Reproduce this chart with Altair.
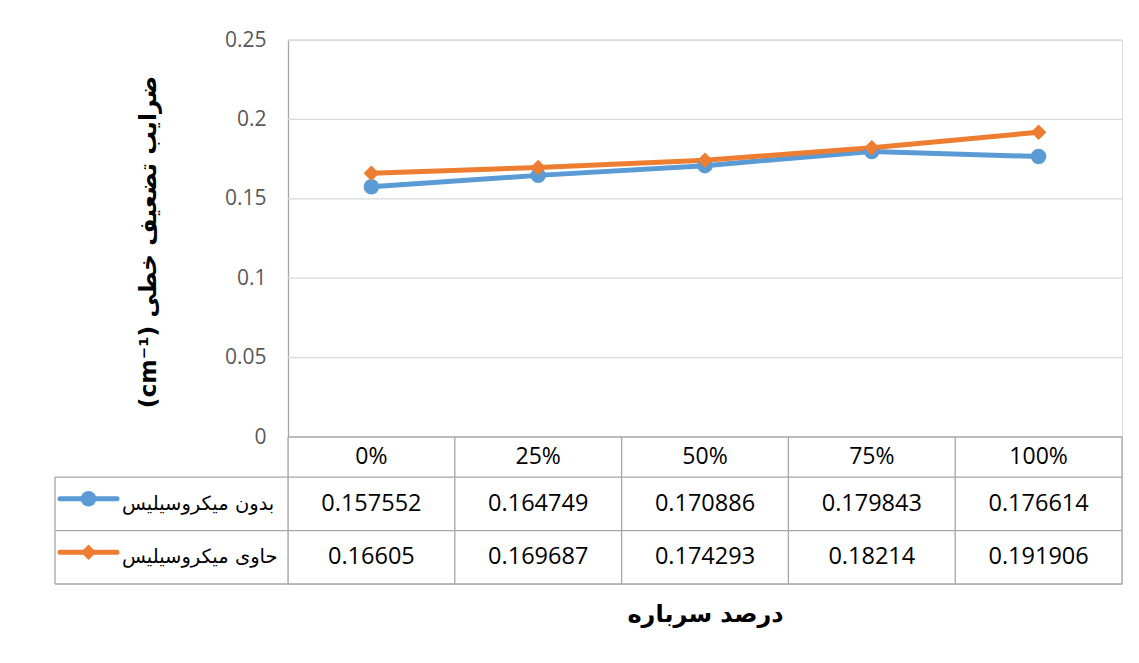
import altair as alt
import pandas as pd

# ---------------- data ----------------
categories = ["0%", "25%", "50%", "75%", "100%"]
series_names = ["بدون میکروسیلیس", "حاوی میکروسیلیس"]
series_1 = [0.157552, 0.164749, 0.170886, 0.179843, 0.176614]
series_2 = [0.16605, 0.169687, 0.174293, 0.18214, 0.191906]
y_ticks = [0, 0.05, 0.1, 0.15, 0.2, 0.25]
y_title = "(cm⁻¹) ضرایب تضعیف خطی"
x_title = "درصد سرباره"

# ---------------- styles / layout ----------------
colors = ["#5B9BD5", "#ED7D31"]
shapes = ["circle", "diamond"]
W = 834
PLOT_H = 397
TABLE_H = 147
N = len(categories)
UNIT = W / N
LABEL_COL = 233 / UNIT          # label column width, in column units
HEADER = 0.75                   # header row height, in row units
TABLE_ROWS = HEADER + len(series_names)
GLYPH_X0 = -228 / UNIT
GLYPH_X1 = -171 / UNIT
GLYPH_MID = (GLYPH_X0 + GLYPH_X1) / 2
LABEL_X = -166 / UNIT
BORDER = "#a6a6a6"
NUM_FONT = "Open Sans"
AR_FONT = "DejaVu Sans"
LW = 5
MS = 240

x_scale = alt.Scale(domain=[-LABEL_COL, N], range=[-LABEL_COL * UNIT, W], nice=False, zero=False)
y_scale = alt.Scale(domain=[0, 0.25], range=[PLOT_H, 0], nice=False, zero=False)
t_scale = alt.Scale(domain=[0, TABLE_ROWS], range=[PLOT_H, PLOT_H + TABLE_H], nice=False, zero=False)
color_scale = alt.Scale(domain=series_names, range=colors)
shape_scale = alt.Scale(domain=series_names, range=shapes)

x_axis = alt.Axis(title=x_title, labels=False, ticks=False, domain=False, grid=False,
                  titleX=W / 2, titlePadding=18, titleFont=AR_FONT, titleFontSize=24,
                  titleFontWeight="bold", titleColor="black")
y_axis = alt.Axis(values=y_ticks, labelExpr="format(datum.value, '~g')", title=y_title,
                  titleX=-140, titleY=PLOT_H / 2 + 3, titleAngle=270, titleAlign="center",
                  titleBaseline="middle", titleFont=AR_FONT, titleFontSize=23.5,
                  titleFontWeight="bold", titleColor="black",
                  labelFont=NUM_FONT, labelFontSize=21, labelColor="#595959", labelPadding=22,
                  ticks=False, domain=True, domainColor=BORDER, domainWidth=1.3,
                  grid=False)

# ---------------- tables ----------------
rows = []
for k, (s, vals) in enumerate(zip(series_names, [series_1, series_2])):
    for i, (c, v) in enumerate(zip(categories, vals)):
        rows.append({"series": s, "category": c, "col": i + 0.5, "value": v,
                     "row": HEADER + k + 0.5, "label": str(v)})
df = pd.DataFrame(rows)

df_grid = pd.DataFrame({"value": y_ticks[1:], "x0": [0] * (len(y_ticks) - 1),
                        "x1": [N] * (len(y_ticks) - 1)})
df_head = pd.DataFrame({"col": [i + 0.5 for i in range(N)], "row": [HEADER / 2] * N,
                        "label": categories})
df_h = pd.DataFrame({"y": [0] + [HEADER + k for k in range(len(series_names) + 1)],
                     "x0": [0] + [-LABEL_COL] * (len(series_names) + 1),
                     "x1": [N] * (len(series_names) + 2)})
df_v = pd.DataFrame({"x": [-LABEL_COL] + list(range(N + 1)),
                     "y0": [HEADER] + [0] * (N + 1),
                     "y1": [TABLE_ROWS] * (N + 2)})
df_leg = pd.DataFrame({"series": series_names,
                       "row": [HEADER + k + 0.5 for k in range(len(series_names))],
                       "gx0": [GLYPH_X0] * 2, "gx1": [GLYPH_X1] * 2,
                       "gm": [GLYPH_MID] * 2, "lx": [LABEL_X] * 2})

col_enc = alt.Color("series:N", scale=color_scale, legend=None)

grid = alt.Chart(df_grid).mark_rule(color="#d9d9d9", strokeWidth=1.3).encode(
    x=alt.X("x0:Q", scale=x_scale, axis=x_axis), x2="x1:Q",
    y=alt.Y("value:Q", scale=y_scale, axis=y_axis),
)
line = alt.Chart(df).mark_line(strokeWidth=LW, strokeCap="round").encode(
    x=alt.X("col:Q", scale=x_scale, axis=x_axis),
    y=alt.Y("value:Q", scale=y_scale, axis=None),
    color=col_enc,
)
points = alt.Chart(df).mark_point(filled=True, size=MS, opacity=1).encode(
    x=alt.X("col:Q", scale=x_scale, axis=x_axis),
    y=alt.Y("value:Q", scale=y_scale, axis=None),
    color=col_enc,
    shape=alt.Shape("series:N", scale=shape_scale, legend=None),
)
hrules = alt.Chart(df_h).mark_rule(color=BORDER, strokeWidth=1.3).encode(
    x=alt.X("x0:Q", scale=x_scale, axis=x_axis), x2="x1:Q",
    y=alt.Y("y:Q", scale=t_scale, axis=None),
)
vrules = alt.Chart(df_v).mark_rule(color=BORDER, strokeWidth=1.3).encode(
    x=alt.X("x:Q", scale=x_scale, axis=x_axis),
    y=alt.Y("y0:Q", scale=t_scale, axis=None), y2="y1:Q",
)
head = alt.Chart(df_head).mark_text(font=NUM_FONT, fontSize=23, color="black").encode(
    x=alt.X("col:Q", scale=x_scale, axis=x_axis),
    y=alt.Y("row:Q", scale=t_scale, axis=None),
    text="label:N",
)
cells = alt.Chart(df).mark_text(font=NUM_FONT, fontSize=23.5, color="black").encode(
    x=alt.X("col:Q", scale=x_scale, axis=x_axis),
    y=alt.Y("row:Q", scale=t_scale, axis=None),
    text="label:N",
)
glyph = alt.Chart(df_leg).mark_rule(strokeWidth=LW, strokeCap="round", yOffset=-5).encode(
    x=alt.X("gx0:Q", scale=x_scale, axis=x_axis), x2="gx1:Q",
    y=alt.Y("row:Q", scale=t_scale, axis=None),
    color=col_enc,
)
glyph_pt = alt.Chart(df_leg).mark_point(filled=True, size=MS, opacity=1, yOffset=-5).encode(
    x=alt.X("gm:Q", scale=x_scale, axis=x_axis),
    y=alt.Y("row:Q", scale=t_scale, axis=None),
    color=col_enc,
    shape=alt.Shape("series:N", scale=shape_scale, legend=None),
)
leg_text = alt.Chart(df_leg).mark_text(font=AR_FONT, fontSize=19.5, color="black", align="left").encode(
    x=alt.X("lx:Q", scale=x_scale, axis=x_axis),
    y=alt.Y("row:Q", scale=t_scale, axis=None),
    text="series:N",
)

chart = alt.layer(
    grid, hrules, vrules, line, points, head, cells, glyph, glyph_pt, leg_text
).resolve_scale(y="independent").properties(
    width=W, height=PLOT_H + TABLE_H,
    autosize=alt.AutoSizeParams(type="none"),
    padding={"left": 280, "top": 32, "right": 9, "bottom": 60},
).configure_view(stroke=None).configure(background="white")

chart.save("out.html", embed_options={"renderer": "svg", "actions": False})
